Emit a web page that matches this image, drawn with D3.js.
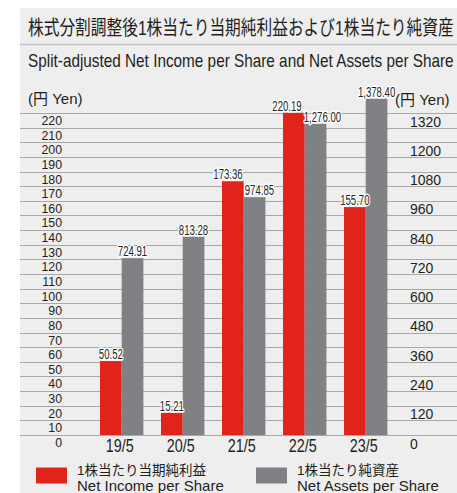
<!DOCTYPE html>
<html><head><meta charset="utf-8">
<script src="https://cdn.jsdelivr.net/npm/d3@7"></script>
<style>
html,body{margin:0;padding:0;background:#fff;}
text{font-family:"Liberation Sans","Noto Sans CJK JP",sans-serif;fill:#231f20;}
</style></head><body>
<svg id="c" width="457" height="493"></svg>
<script>
const categories = ["19/5","20/5","21/5","22/5","23/5"];
const netIncome = [50.52, 15.21, 173.36, 220.19, 155.70];
const netAssets = [724.91, 813.28, 974.85, 1276.00, 1378.40];
const netIncomeLabels = ["50.52","15.21","173.36","220.19","155.70"];
const netAssetsLabels = ["724.91","813.28","974.85","1,276.00","1,378.40"];
const leftTicks = d3.range(0, 230, 10);
const rightTicks = [0,120,240,360,480,600,720,840,960,1080,1200,1320];
const title = "株式分割調整後1株当たり当期純利益および1株当たり純資産";
const subtitle = "Split-adjusted Net Income per Share and Net Assets per Share";
const unitLabel = "(円  Yen)";
const seriesNames = [["1株当たり当期純利益","Net Income per Share"],["1株当たり純資産","Net Assets per Share"]];

const RED = "#e2231a", GRAY = "#808184";
const svg = d3.select("#c");

// backgrounds
svg.append("rect").attr("x",20).attr("y",8).attr("width",437).attr("height",485).attr("fill","#eeeeee");
svg.append("line").attr("x1",20).attr("x2",457).attr("y1",44.5).attr("y2",44.5).attr("stroke","#c4c4c4").attr("stroke-width",1.5);

function fitText(t, xPos, yPos, w){
  const n = t.node().getComputedTextLength();
  t.attr("transform",`translate(${xPos},${yPos}) scale(${w/n},1)`);
}
const tt = svg.append("text").attr("font-family","Noto Sans CJK JP").attr("font-size",20).text(title);
fitText(tt, 28, 35, 426);
const st = svg.append("text").attr("font-size",18).text(subtitle);
fitText(st, 28, 67, 426);

const y0 = 435, yTop = 113;
const yL = d3.scaleLinear().domain([0,220]).range([y0,yTop]);
const yR = d3.scaleLinear().domain([0,1320]).range([y0,yTop]);
const x = d3.scaleBand().domain(categories).range([100,387.4]).paddingInner(0.289).paddingOuter(0);
const xs = d3.scaleBand().domain(["ni","na"]).range([0,x.bandwidth()]).padding(0);

// gridlines
svg.append("g").selectAll("line").data(leftTicks).join("line")
  .attr("x1",20).attr("x2",457).attr("y1",d=>Math.round(yL(d))+0.5).attr("y2",d=>Math.round(yL(d))+0.5)
  .attr("stroke","#a8a8a8").attr("stroke-width",1.2);

// left axis labels (placed just under their gridline)
svg.append("g").selectAll("text").data(leftTicks).join("text")
  .attr("transform",d=>`translate(62,${yL(d)+12}) scale(0.95,1)`)
  .attr("text-anchor","end").attr("font-size",13).text(d=>d);
// right axis labels
svg.append("g").selectAll("text").data(rightTicks).join("text")
  .attr("x",410).attr("y",d=>yR(d)+13.5).attr("font-size",14).text(d=>d);

// units
svg.append("text").attr("x",28).attr("y",104).attr("font-size",15).text(unitLabel);
svg.append("text").attr("x",395).attr("y",105).attr("font-size",15).text(unitLabel);

// bars
const rows = categories.map((c,i)=>({c, ni:netIncome[i], na:netAssets[i], nil:netIncomeLabels[i], nal:netAssetsLabels[i]}));
const bars = svg.append("g");
bars.selectAll("rect.ni").data(rows).join("rect").attr("class","ni")
  .attr("x",d=>x(d.c)+xs("ni")).attr("width",xs.bandwidth())
  .attr("y",d=>yL(d.ni)).attr("height",d=>y0-yL(d.ni)).attr("fill",RED);
bars.selectAll("rect.na").data(rows).join("rect").attr("class","na")
  .attr("x",d=>x(d.c)+xs("na")).attr("width",xs.bandwidth())
  .attr("y",d=>yR(d.na)).attr("height",d=>y0-yR(d.na)).attr("fill",GRAY);

// value labels with collision avoidance
const SX = 0.64, FS = 15;
const lab = svg.append("g");
function mk(t){ return lab.append("text").attr("font-size",FS).attr("text-anchor","middle")
  .attr("stroke","#fff").attr("stroke-width",3).attr("stroke-linejoin","round").attr("paint-order","stroke").text(t); }
rows.forEach(d=>{
  let cxa = x(d.c)+xs("ni")+xs.bandwidth()/2, cxb = x(d.c)+xs("na")+xs.bandwidth()/2;
  const ya = yL(d.ni)-2, yb = yR(d.na)-2;
  const ta = mk(d.nil), tb = mk(d.nal);
  const wa = ta.node().getComputedTextLength()*SX, wb = tb.node().getComputedTextLength()*SX;
  if (Math.abs(ya-yb) < 20) {
    const need = (wa+wb)/2 + 2 - (cxb-cxa);
    if (need > 0) { cxa -= need/2; cxb += need/2; }
  }
  ta.attr("transform",`translate(${cxa},${ya}) scale(${SX},1)`);
  tb.attr("transform",`translate(${cxb},${yb}) scale(${SX},1)`);
});

// category labels
svg.append("g").selectAll("text").data(categories).join("text")
  .attr("transform",d=>`translate(${x(d)+x.bandwidth()/2-2},452) scale(0.82,1)`)
  .attr("text-anchor","middle").attr("font-size",17.5).text(d=>d);

// legend
const lg = svg.append("g");
[[36,RED,77],[256,GRAY,297]].forEach((p,i)=>{
  lg.append("rect").attr("x",p[0]).attr("y",467.5).attr("width",31).attr("height",16).attr("fill",p[1]);
  lg.append("text").attr("x",p[2]).attr("y",474.5).attr("font-family","Noto Sans CJK JP").attr("font-size",13.5).text(seriesNames[i][0]);
  lg.append("text").attr("x",p[2]).attr("y",491).attr("font-size",15).text(seriesNames[i][1]);
});
</script></body></html>
